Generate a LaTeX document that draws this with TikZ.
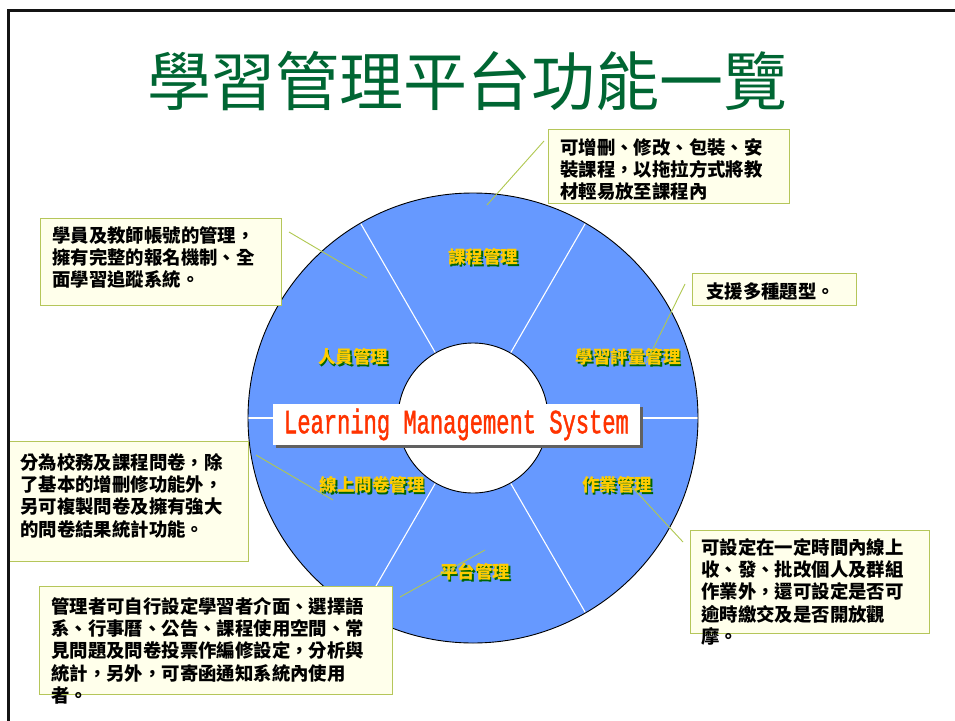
\documentclass[tikz,border=0pt]{standalone}
\usepackage{fontspec}
\usetikzlibrary{shadows,calc}
\newfontfamily\cjk{Noto Sans CJK TC}
\newfontfamily\lmsfont[FakeStretch=0.65,FakeBold=1.2]{Liberation Mono}
\definecolor{ringblue}{HTML}{6699FF}
\definecolor{lblyellow}{HTML}{FFCC00}
\definecolor{lblshadow}{HTML}{006600}
\definecolor{titlegreen}{HTML}{006633}
\definecolor{boxfill}{HTML}{FFFFEB}
\definecolor{boxborder}{HTML}{B5C65A}
\definecolor{connline}{HTML}{B0C850}
\definecolor{lmsred}{HTML}{FF3300}
\tikzset{
  cbox/.style={draw=boxborder, fill=boxfill, line width=1.2pt, inner sep=0pt, anchor=north west},
  ctext/.style={font=\cjk\bfseries\fontsize{18.4}{22.3}\selectfont, align=left, anchor=north west, inner sep=0pt, text=black},
  conn/.style={draw=connline, line width=0.9pt},
  lbl/.style={font=\cjk\bfseries\fontsize{17.5}{17.5}\selectfont, text=lblyellow, inner sep=0pt},
  lblsh/.style={font=\cjk\bfseries\fontsize{17.5}{17.5}\selectfont, text=lblshadow, inner sep=0pt},
}
\begin{document}
\begin{tikzpicture}[x=1pt,y=-1pt]
\useasboundingbox (0,0) rectangle (955,720);
\fill[white] (0,0) rectangle (955,720);
% title
\node[font=\cjk\fontsize{64}{64}\selectfont, text=titlegreen, inner sep=0pt] (title) at (467,81) {學習管理平台功能一覽};
% ring
\coordinate (c) at (473,418);
\fill[ringblue, even odd rule] (c) circle[radius=225] (c) circle[radius=75];
\foreach \a in {0,60,120,180,240,300}{
  \draw[white, line width=1.1pt] ($(c)+(\a:75)$) -- ($(c)+(\a:225)$);
}
\draw[black, line width=0.9pt] (c) circle[radius=225];
\draw[black, line width=0.9pt] (c) circle[radius=75];
% ring labels
\foreach \n/\x/\y/\t in {l1/483/257/課程管理, l2/353/357/人員管理, l3/628/357/學習評量管理, l4/372/485/線上問卷管理, l5/617/485/作業管理, l6/475/572/平台管理}{
  \node[lblsh] (\n s) at (\x+1.6,\y+1.6) {\t};
  \node[lbl] (\n) at (\x,\y) {\t};
}
% LMS box
\node[fill=white, minimum width=367pt, minimum height=41pt, inner sep=0pt,
      drop shadow={shadow xshift=3pt, shadow yshift=-3pt, opacity=1, fill=black!62},
      font=\lmsfont\fontsize{34}{34}\selectfont, text=lmsred] (lms) at (456.5,424.5) {Learning Management System};
% connectors
\coordinate (k1a) at (544,141); \coordinate (k1b) at (487,205);
\coordinate (k2a) at (289,232); \coordinate (k2b) at (367,278);
\coordinate (k3a) at (685,284); \coordinate (k3b) at (646,363);
\coordinate (k4a) at (256,455); \coordinate (k4b) at (333,500);
\coordinate (k5a) at (632,487); \coordinate (k5b) at (683,542);
\coordinate (k6a) at (400,597); \coordinate (k6b) at (485,550);
\foreach \k in {1,...,6}{ \draw[conn] (k\k a) -- (k\k b); }
% callout boxes
\node[cbox, minimum width=241pt, minimum height=74pt] (b1) at (548,129) {};
\node[cbox, minimum width=241pt, minimum height=87pt] (b2) at (40,218) {};
\node[cbox, minimum width=164pt, minimum height=32pt] (b3) at (692,273) {};
\node[cbox, minimum width=240pt, minimum height=120pt] (b4) at (8,441) {};
\node[cbox, minimum width=239pt, minimum height=103pt] (b5) at (690,530) {};
\node[cbox, minimum width=353pt, minimum height=108pt] (b6) at (39,586) {};
% callout texts
\node[ctext] (t1) at (560,138) {可增刪、修改、包裝、安\\裝課程，以拖拉方式將教\\材輕易放至課程內};
\node[ctext] (t2) at (52,226) {學員及教師帳號的管理，\\擁有完整的報名機制、全\\面學習追蹤系統。};
\node[ctext] (t3) at (706,282) {支援多種題型。};
\node[ctext] (t4) at (20,453) {分為校務及課程問卷，除\\了基本的增刪修功能外，\\另可複製問卷及擁有強大\\的問卷結果統計功能。};
\node[ctext] (t5) at (701,538) {可設定在一定時間內線上\\收、發、批改個人及群組\\作業外，還可設定是否可\\逾時繳交及是否開放觀\\摩。};
\node[ctext] (t6) at (51,597) {管理者可自行設定學習者介面、選擇語\\系、行事曆、公告、課程使用空間、常\\見問題及問卷投票作編修設定，分析與\\統計，另外，可寄函通知系統內使用\\者。};
% frame
\draw[line width=3pt, black!92] (8.5,725) -- (8.5,10.5) -- (960,10.5);
\end{tikzpicture}
\end{document}
